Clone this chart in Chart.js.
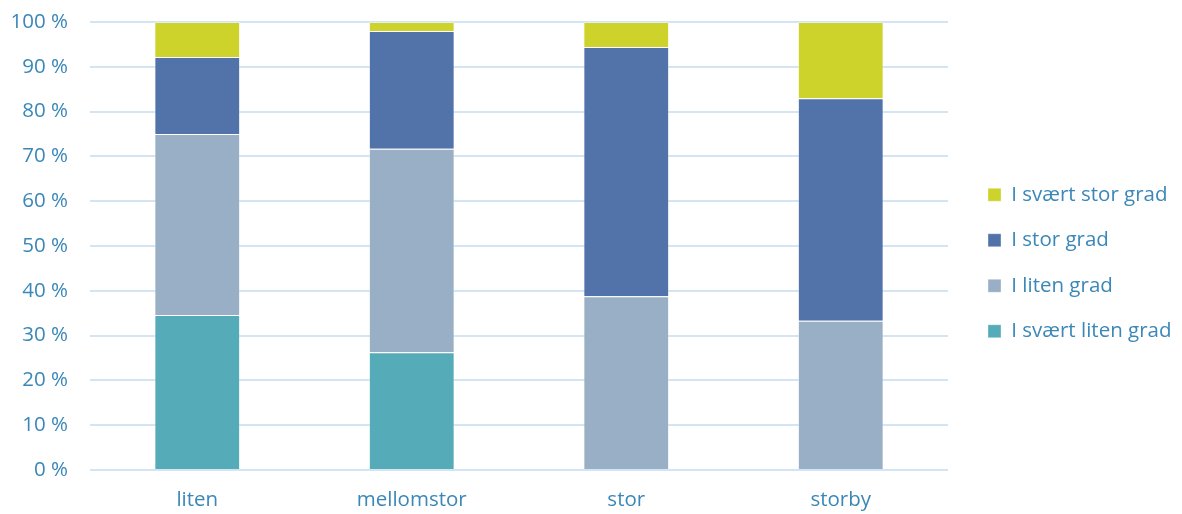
<!DOCTYPE html>
<html><head><meta charset="utf-8">
<script src="https://cdn.jsdelivr.net/npm/chart.js@4/dist/chart.umd.min.js"></script>
<style>html,body{margin:0;padding:0;background:#fff}#wrap{width:1182px;height:514px;position:relative}</style>
</head><body><div id="wrap"><canvas id="c" width="1182" height="514"></canvas></div>
<script>
const categories = ['liten', 'mellomstor', 'stor', 'storby'];
const seriesNames = ['I svært liten grad', 'I liten grad', 'I stor grad', 'I svært stor grad'];
const sværtLiten = [34.6, 26.3, 0, 0];
const liten = [40.4, 45.4, 38.8, 33.3];
const stor = [17.2, 26.3, 55.6, 49.7];
const sværtStor = [7.8, 2.0, 5.6, 17.0];
const colors = ['#55abb8', '#98afc5', '#5273aa', '#cdd32a'];
const textColor = '#3a87b8';
const font = {family: "'Open Sans', 'Noto Sans', sans-serif", size: 20.5};

const data = {
  labels: categories,
  datasets: [sværtLiten, liten, stor, sværtStor].map((v, i) => ({
    label: seriesNames[i], data: v, backgroundColor: colors[i],
    borderColor: 'rgba(255,255,255,0.35)', borderWidth: 1,
    categoryPercentage: 1, barPercentage: 0.4
  }))
};
const legendTweak = {
  id: 'legendTweak',
  afterInit(chart) {
    const lg = chart.legend;
    if (lg) {
      const origFit = lg.fit.bind(lg);
      lg.fit = function () { origFit(); this.width = 226; };
    }
  },
  afterLayout(chart) {
    const lg = chart.legend;
    if (lg) { lg.left += 15; lg.right += 15; lg.top -= 5; lg.bottom -= 5; }
  }
};
new Chart(document.getElementById('c'), {
  type: 'bar', data,
  plugins: [legendTweak],
  options: {
    responsive: false, animation: false,
    layout: {padding: {top: 22, right: 8, left: 0, bottom: 0}},
    plugins: {
      tooltip: {enabled: false},
      legend: {
        position: 'right', reverse: true,
        labels: {boxWidth: 13, boxHeight: 13, padding: 25, color: textColor, font: font}
      }
    },
    scales: {
      x: {stacked: true, grid: {display: false}, border: {display: false},
          afterFit: s => { s.height = 44; },
          ticks: {color: textColor, font: font, padding: 10}},
      y: {stacked: true, min: 0, max: 100,
          afterFit: s => { s.width = 90; s.paddingTop = 0; s.paddingBottom = 0; },
          grid: {color: '#d3e5f2', lineWidth: 2, drawTicks: false},
          border: {display: false},
          ticks: {stepSize: 10, color: textColor, font: font, padding: 22,
                  callback: v => v + ' %'}}
    }
  }
});
</script></body></html>
